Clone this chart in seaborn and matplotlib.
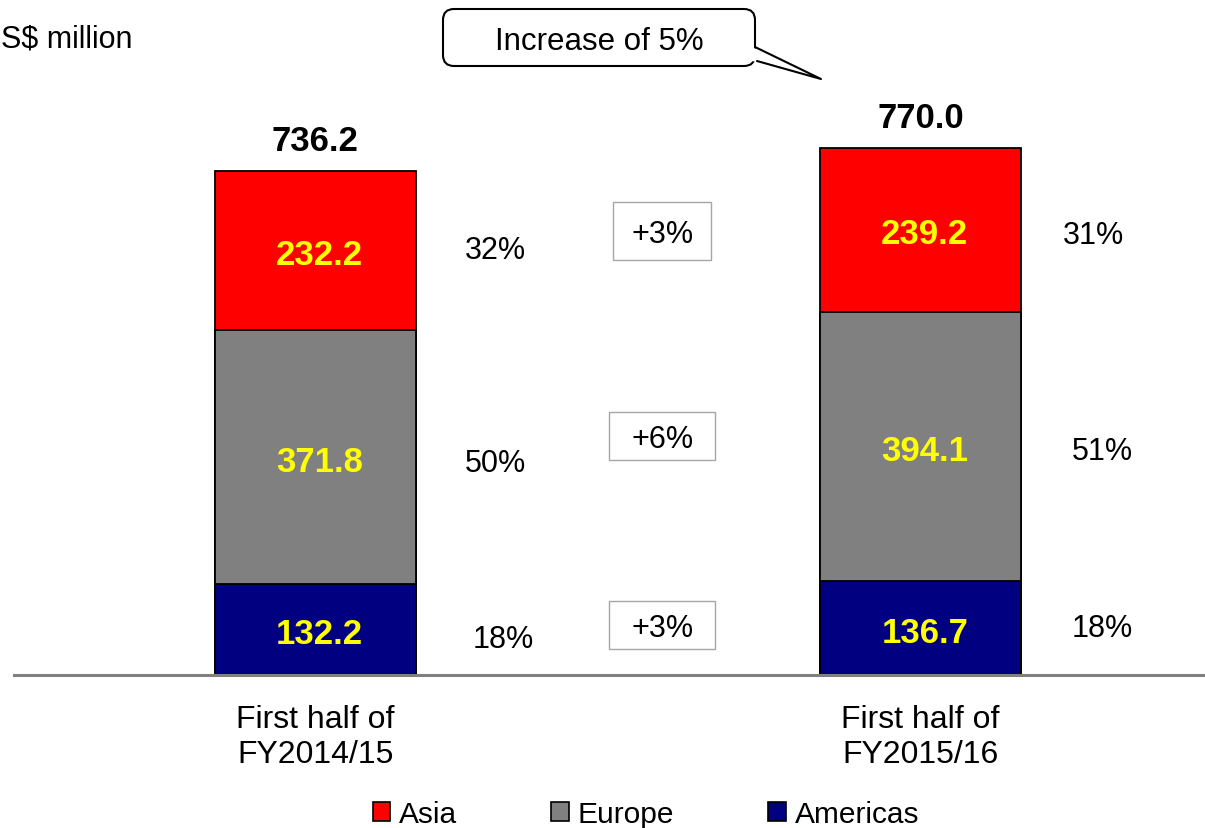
import matplotlib
matplotlib.use("Agg")
import matplotlib.pyplot as plt
import numpy as np
import pandas as pd
import seaborn as sns
from matplotlib.patches import Patch, FancyBboxPatch, Polygon, Rectangle
from matplotlib.lines import Line2D
from matplotlib.transforms import IdentityTransform

# ---- data -------------------------------------------------------------
periods = ["First half of\nFY2014/15", "First half of\nFY2015/16"]
regions = ["Asia", "Europe", "Americas"]
asia = [232.2, 239.2]
europe = [371.8, 394.1]
americas = [132.2, 136.7]
totals = [736.2, 770.0]
asia_share = ["32%", "31%"]
europe_share = ["50%", "51%"]
americas_share = ["18%", "18%"]
growth = ["+3%", "+6%", "+3%"]          # Asia, Europe, Americas
callout_text = "Increase of 5%"
unit_label = "S$ million"

colors = {"Asia": "#ff0000", "Europe": "#808080", "Americas": "#000080"}

# ---- style ------------------------------------------------------------
sns.set_style("white")
plt.rcParams["font.family"] = ["Liberation Sans", "DejaVu Sans"]
plt.rcParams["text.color"] = "black"
plt.rcParams["xtick.labelcolor"] = "black"

W, H = 1205, 829
fig = plt.figure(figsize=(W / 100, H / 100), dpi=100)
ax = fig.add_axes([14 / W, (H - 676) / H, (W - 14) / W, 676 / H])

df = pd.DataFrame({"period": periods, "Asia": asia, "Europe": europe,
                   "Americas": americas})
df["top_Americas"] = df["Americas"]
df["top_Europe"] = df["Americas"] + df["Europe"]
df["top_Asia"] = df["top_Europe"] + df["Asia"]

# stacked bars: draw the cumulative heights from the tallest down
for region in regions:
    sns.barplot(data=df, x="period", y=f"top_{region}", color=colors[region],
                saturation=1, width=0.332, edgecolor="black", linewidth=1.3,
                ax=ax, zorder=2)

ax.set_xlim(-0.498, 1.470)
ax.set_ylim(0, 987.4)
ax.set_xlabel("")
ax.set_ylabel("")
ax.set_yticks([])
for s in ["top", "left", "right"]:
    ax.spines[s].set_visible(False)
ax.spines["bottom"].set_color("#808080")
ax.spines["bottom"].set_linewidth(2.2)
ax.tick_params(axis="x", length=0, labelsize=23, pad=21)
for lbl in ax.get_xticklabels():
    lbl.set_linespacing(1.2)

# segment value labels and shares
share_cols = {"Asia": asia_share, "Europe": europe_share, "Americas": americas_share}
share_dx = {0: {"Americas": 0.31, "Europe": 0.297, "Asia": 0.297},
            1: {"Americas": 0.300, "Europe": 0.300, "Asia": 0.285}}
share_dy = {0: {"Americas": -7, "Europe": -4, "Asia": 0},
            1: {"Americas": 0, "Europe": -3, "Asia": -4}}
for i in range(len(periods)):
    base = 0.0
    for region in ["Americas", "Europe", "Asia"]:
        v = df[region][i]
        mid = base + v / 2
        ax.annotate(f"{v:.1f}", (i, mid), xytext=(3, -3),
                    textcoords="offset points", ha="center", va="center",
                    color="#ffff00", fontsize=25, fontweight="bold", zorder=5)
        ax.annotate(share_cols[region][i], (i + share_dx[i][region], mid),
                    xytext=(0, share_dy[i][region]), textcoords="offset points",
                    ha="center", va="center", fontsize=22, color="black")
        base += v
    ax.annotate(f"{totals[i]:.1f}", (i, totals[i]), xytext=(0, 15),
                textcoords="offset points", ha="center", va="baseline",
                fontsize=25, fontweight="bold", color="black")

ident = IdentityTransform()
def px(x, y):
    return (x, H - y)

# growth boxes between the bars
growth_y = [648.6, 349.1, 73.0]
growth_box = [(98, 58), (106, 48), (106, 48)]
for txt, y, (bw, bh) in zip(growth, growth_y, growth_box):
    ax.annotate(txt, (0.573, y), xytext=(0, -2), textcoords="offset points",
                ha="center", va="center", fontsize=22, zorder=6)
    cx, cy = ax.transData.transform((0.573, y))
    ax.add_patch(Rectangle((cx - bw / 2, cy - bh / 2), bw, bh,
                           facecolor="white", edgecolor="#a6a6a6",
                           linewidth=1.0, transform=ident, zorder=4,
                           clip_on=False))

# unit label
fig.text(1 / W, 1 - 39 / H, unit_label, ha="left", va="center", fontsize=22)

# speech-bubble callout (pixel coordinates, origin at top-left)
bx0, by0, bx1, by1 = 443, 10, 755, 67
box = FancyBboxPatch(px(bx0, by1), bx1 - bx0, by1 - by0,
                     boxstyle="round,pad=0,rounding_size=11",
                     facecolor="white", edgecolor="black", linewidth=1.5,
                     transform=ident, zorder=10)
fig.patches.append(box)
tip = px(821, 80)
p_up = px(755, 48)
p_lo = px(757, 62)
cover = Polygon([px(752, 48), tip, px(752, 62)], closed=True,
                facecolor="white", edgecolor="none", transform=ident, zorder=11)
fig.patches.append(cover)
fig.lines.append(Line2D([p_up[0], tip[0], p_lo[0]], [p_up[1], tip[1], p_lo[1]],
                        color="black", linewidth=1.5, transform=ident, zorder=12))
fig.text(599 / W, 1 - 42 / H, callout_text, ha="center", va="center",
         fontsize=22.5, zorder=13)

# legend
handles = [Patch(facecolor=colors[r], edgecolor="black", linewidth=1.2, label=r)
           for r in regions]
fig.legend(handles=handles, loc="center", bbox_to_anchor=(646 / W, 14 / H),
           ncol=3, frameon=False, fontsize=21.5, handlelength=0.58,
           handleheight=0.58, handletextpad=0.3, columnspacing=3.15,
           borderaxespad=0, borderpad=0)

fig.savefig("out.png", dpi=100)
